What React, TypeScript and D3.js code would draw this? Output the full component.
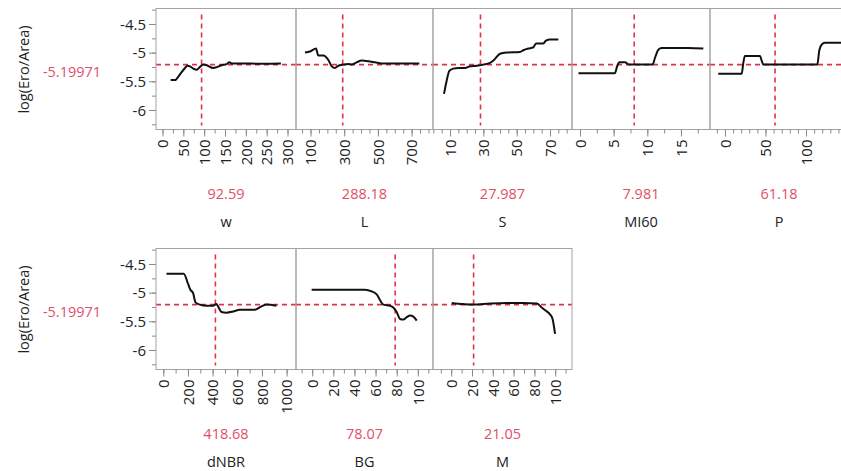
import React from "react";
import * as d3 from "d3";

// Prediction profiler: log(Ero/Area) against each factor, with the current setting of every factor.
const responseTitle = "log(Ero/Area)";
const predictedValue = -5.19971;
const responseTicks = [-4.5, -5, -5.5, -6];
const responseDomain: [number, number] = [-6.332, -4.221];

const factorNames = ["w", "L", "S", "MI60", "P", "dNBR", "BG", "M"];
const currentValues = [92.59, 288.18, 27.987, 7.981, 61.18, 418.68, 78.07, 21.05];

// profile traces
const wX = [18.4, 28.8, 36.8, 44.8, 52.8, 58.4, 64.8, 72.8, 80.8, 88.8, 96.8, 104.8, 112.8, 120.8, 130.4, 140.8, 152.8, 159.2, 164.8, 184.8, 240.8, 283];
const wY = [-5.47, -5.47, -5.41, -5.33, -5.26, -5.22, -5.23, -5.27, -5.29, -5.24, -5.2, -5.21, -5.24, -5.26, -5.24, -5.21, -5.19, -5.16, -5.18, -5.18, -5.185, -5.18];

const lX = [64, 94, 130, 143, 173, 203, 223, 242, 262, 292, 321, 341, 371, 401, 440, 480, 520, 569, 743];
const lY = [-4.99, -4.97, -4.92, -5.04, -5.04, -5.12, -5.23, -5.26, -5.22, -5.2, -5.19, -5.2, -5.16, -5.13, -5.14, -5.16, -5.18, -5.18, -5.18];

const sX = [6.1, 7.7, 9.3, 11.7, 14.7, 18.7, 21.7, 25.7, 29.7, 33.7, 36.1, 39.7, 43.7, 51.7, 53.7, 56.7, 59.7, 61.3, 65.7, 67.3, 69.7, 74.7];
const sY = [-5.71, -5.48, -5.31, -5.27, -5.26, -5.26, -5.23, -5.22, -5.2, -5.17, -5.12, -5.01, -4.99, -4.98, -4.95, -4.92, -4.9, -4.83, -4.83, -4.78, -4.76, -4.76];

const mi60X = [-0.3, 5.1, 5.47, 5.77, 6.6, 7.25, 10.7, 11.07, 11.57, 12.07, 16, 18.25];
const mi60Y = [-5.35, -5.35, -5.22, -5.16, -5.16, -5.2, -5.2, -5.08, -4.94, -4.91, -4.91, -4.92];

const pX = [-8.9, 20, 22, 24, 42.6, 44.7, 46.7, 113.3, 115.8, 118.8, 122.8, 152];
const pY = [-5.36, -5.36, -5.17, -5.05, -5.05, -5.13, -5.2, -5.2, -4.95, -4.85, -4.82, -4.82];

const dnbrX = [22, 162, 197, 216, 238, 257, 292, 346, 400, 427, 440, 468, 508, 562, 616, 671, 738, 792, 833, 914];
const dnbrY = [-4.66, -4.66, -4.84, -4.94, -5.0, -5.16, -5.2, -5.22, -5.22, -5.19, -5.23, -5.33, -5.34, -5.32, -5.29, -5.29, -5.29, -5.23, -5.2, -5.22];

const bgX = [-1, 49.5, 55.9, 60.6, 63.7, 66.9, 73.2, 76.3, 79.5, 82.7, 85.8, 89, 92.1, 95.3, 98.5];
const bgY = [-4.94, -4.94, -4.97, -5.02, -5.12, -5.2, -5.22, -5.25, -5.33, -5.45, -5.46, -5.42, -5.39, -5.41, -5.48];

const mX = [0, 11, 21, 37, 53, 69, 82, 86.5, 90, 94.5, 97, 99.4];
const mY = [-5.17, -5.19, -5.2, -5.18, -5.17, -5.17, -5.18, -5.25, -5.3, -5.37, -5.45, -5.71];

// axis settings per factor
const xDomains: [number, number][] = [
  [-16.8, 319.2],
  [11, 824],
  [-0.5, 82.9],
  [-1.26, 19.24],
  [-19.1, 151.2],
  [-63, 1072],
  [-15.8, 113.9],
  [-18, 115.7],
];
const labeledTicks = [
  [0, 50, 100, 150, 200, 250, 300],
  [100, 300, 500, 700],
  [10, 30, 50, 70],
  [0, 5, 10, 15],
  [0, 50, 100],
  [0, 200, 400, 600, 800, 1000],
  [0, 20, 40, 60, 80, 100],
  [0, 20, 40, 60, 80, 100],
];
const minorSteps = [25, 50, 5, 2.5, 10, 100, 10, 10];
const traceX = [wX, lX, sX, mi60X, pX, dnbrX, bgX, mX];
const traceY = [wY, lY, sY, mi60Y, pY, dnbrY, bgY, mY];

const W = 841;
const H = 471;
const colEdges = [156, 296, 433, 572, 710, 848];
const rowTops = [8.5, 248.5];
const panelH = 121;
const perRow = 5;

const FONT = "'Open Sans', 'Noto Sans', sans-serif";
const RED = "#e0314b";
const RED_TEXT = "#df4f65";
const BORDER = "#a3a3a3";
const TICK = "#8a8a8a";
const INK = "#222";

function range(a: number, b: number, step: number) {
  const out: number[] = [];
  const start = Math.ceil(a / step) * step;
  for (let v = start; v <= b + 1e-9; v += step) out.push(+v.toFixed(6));
  return out;
}

function Panel({ i }: { i: number }) {
  const row = Math.floor(i / perRow);
  const col = i % perRow;
  const x0 = colEdges[col];
  const x1 = colEdges[col + 1];
  const top = rowTops[row];
  const bottom = top + panelH;
  const x = d3.scaleLinear().domain(xDomains[i]).range([x0, x1]);
  const y = d3.scaleLinear().domain(responseDomain).range([bottom, top]);
  const pts = traceX[i].map((v, k) => [v, traceY[i][k]] as [number, number]);
  const line = d3
    .line<[number, number]>()
    .x((d) => x(d[0]))
    .y((d) => y(d[1]))
    .curve(d3.curveMonotoneX);
  const clipId = `clip-${i}`;
  const minors = range(xDomains[i][0], xDomains[i][1], minorSteps[i]);
  const majors = labeledTicks[i];
  const cx = (x0 + x1) / 2;
  const yPred = y(predictedValue);
  const xCur = x(currentValues[i]);
  return (
    <g>
      <defs>
        <clipPath id={clipId}>
          <rect x={x0} y={top} width={x1 - x0} height={panelH} />
        </clipPath>
      </defs>
      <g clipPath={`url(#${clipId})`}>
        <line x1={x0} x2={x1} y1={yPred} y2={yPred} stroke={RED} strokeWidth={1.6} strokeDasharray="5,4" />
        <line x1={xCur} x2={xCur} y1={top + 6} y2={bottom - 4} stroke={RED} strokeWidth={1.6} strokeDasharray="5,4" />
        <path d={line(pts) ?? ""} fill="none" stroke="#111" strokeWidth={2} strokeLinejoin="round" />
      </g>
      <rect x={x0} y={top} width={x1 - x0} height={panelH} fill="none" stroke={BORDER} strokeWidth={1} />
      {minors.map((v) => (
        <line key={`m${v}`} x1={x(v)} x2={x(v)} y1={bottom} y2={bottom + 4} stroke={TICK} strokeWidth={1} />
      ))}
      {majors.map((v) => (
        <g key={`M${v}`}>
          <line x1={x(v)} x2={x(v)} y1={bottom} y2={bottom + 7} stroke={TICK} strokeWidth={1} />
          <text
            transform={`translate(${x(v)},${bottom + 10}) rotate(-90)`}
            textAnchor="end"
            dy="0.35em"
            fontSize={15}
            fontFamily={FONT}
            fill={INK}
          >
            {v}
          </text>
        </g>
      ))}
      <text x={cx} y={top + 185} textAnchor="middle" dy="0.35em" fontSize={14.5} fontFamily={FONT} fill={RED_TEXT}>
        {currentValues[i]}
      </text>
      <text x={cx} y={top + 213} textAnchor="middle" dy="0.35em" fontSize={14.5} fontFamily={FONT} fill={INK}>
        {factorNames[i]}
      </text>
    </g>
  );
}

function ResponseAxis({ row }: { row: number }) {
  const top = rowTops[row];
  const bottom = top + panelH;
  const y = d3.scaleLinear().domain(responseDomain).range([bottom, top]);
  const left = colEdges[0];
  const minors = range(responseDomain[0], responseDomain[1], 0.25);
  return (
    <g>
      {minors.map((v) => (
        <line key={`ym${v}`} x1={left - 4} x2={left} y1={y(v)} y2={y(v)} stroke={TICK} strokeWidth={1} />
      ))}
      {responseTicks.map((v) => (
        <g key={`yt${v}`}>
          <line x1={left - 7} x2={left} y1={y(v)} y2={y(v)} stroke={TICK} strokeWidth={1} />
          <text x={left - 10} y={y(v)} dy="0.35em" textAnchor="end" fontSize={15} fontFamily={FONT} fill={INK}>
            {v}
          </text>
        </g>
      ))}
      <text
        transform={`translate(24,${top + 61}) rotate(-90)`}
        textAnchor="middle"
        dy="0.35em"
        fontSize={14.5}
        fontFamily={FONT}
        fill={INK}
      >
        {responseTitle}
      </text>
      <text x={72} y={top + 63} textAnchor="middle" dy="0.35em" fontSize={14.5} fontFamily={FONT} fill={RED_TEXT}>
        {predictedValue}
      </text>
    </g>
  );
}

export default function App() {
  return (
    <svg
      width={W}
      height={H}
      viewBox={`0 0 ${W} ${H}`}
      style={{ position: "absolute", left: 0, top: 0, background: "#fff" }}
    >
      <rect x={0} y={0} width={W} height={H} fill="#fff" />
      <ResponseAxis row={0} />
      <ResponseAxis row={1} />
      {factorNames.map((_, i) => (
        <Panel key={i} i={i} />
      ))}
    </svg>
  );
}
